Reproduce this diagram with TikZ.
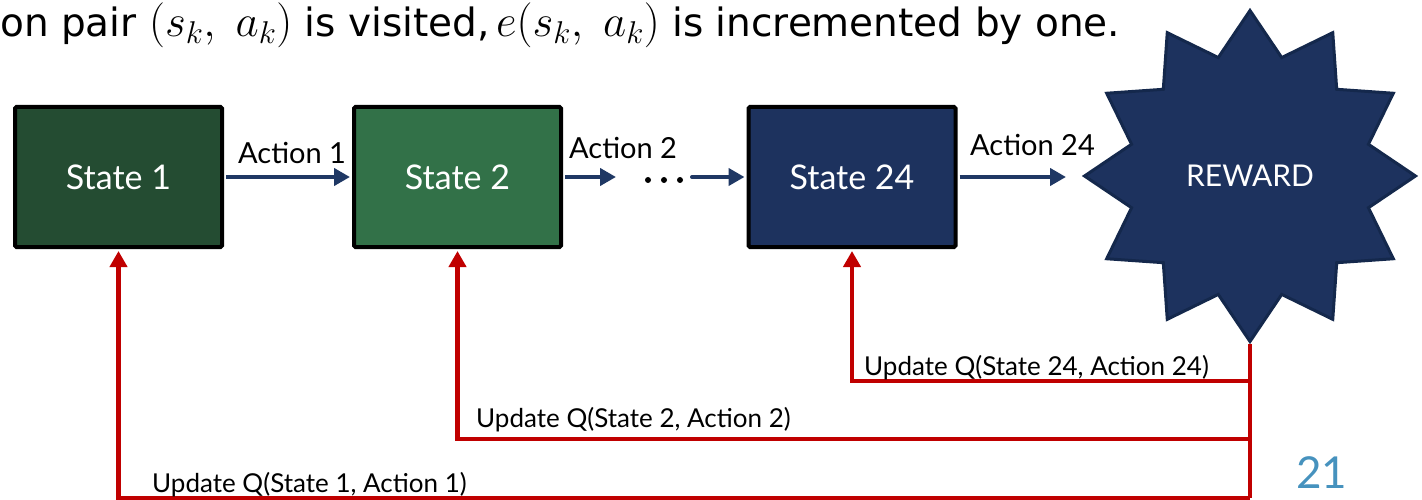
\RequirePackage{fix-cm}
\documentclass[tikz,border=0pt]{standalone}
\usepackage{fontspec}
\setmainfont{Lato}
\newfontfamily\headfont{DejaVu Sans}
\usetikzlibrary{arrows.meta,shapes.geometric}

\definecolor{greenA}{RGB}{36,76,50}
\definecolor{greenB}{RGB}{50,113,72}
\definecolor{navyBox}{RGB}{29,50,94}
\definecolor{navyLine}{RGB}{31,56,100}
\definecolor{navyEdge}{RGB}{20,40,76}
\definecolor{backRed}{RGB}{192,0,0}
\definecolor{pageNum}{RGB}{70,146,190}

% larger math inside the heading line
\newcommand{\hmath}[1]{{\fontsize{45}{50}\selectfont$#1$}}

\tikzset{
  statebox/.style={draw=black, line width=4pt, rounded corners=1.5pt,
    minimum width=207pt, minimum height=140pt, inner sep=0pt,
    text=white, font=\fontsize{34}{40}\selectfont},
  actarrow/.style={draw=navyLine, line width=4pt,
    -{Triangle[width=17pt,length=16pt]}},
  upd/.style={draw=backRed, line width=4.5pt},
  updarrow/.style={upd, -{Triangle[width=17pt,length=16pt]}, shorten >=2pt},
  actlabel/.style={anchor=base west, inner sep=0pt, font=\fontsize{29}{34}\selectfont},
  updlabel/.style={anchor=base west, inner sep=0pt, font=\fontsize{26}{31}\selectfont},
  dotmark/.style={circle, fill=black, minimum size=6pt, inner sep=0pt},
}

\begin{document}
\begin{tikzpicture}[x=1pt,y=-1pt]
  \useasboundingbox (0,0) rectangle (1422,500);
  \fill[white] (0,0) rectangle (1422,500);

  % heading line
  \node[anchor=base west, inner sep=0pt, font=\headfont\fontsize{39}{46}\selectfont] (head) at (0,37)
    {on pair \hmath{(s_k,\;a_k)} is visited,\,\hmath{e(s_k,\;a_k)} is incremented by one.};

  % states
  \node[statebox, fill=greenA] (s1) at (118.5,177) {State 1};
  \node[statebox, fill=greenB] (s2) at (457.5,177) {State 2};
  \node[statebox, fill=navyBox] (s24) at (852,177) {State 24};

  % reward
  \node[star, star points=12, star point ratio=1.35, minimum size=331pt, inner sep=0pt,
        fill=navyBox, draw=navyEdge, line width=3pt, text=white,
        font=\fontsize{30}{36}\selectfont] (rw) at (1250,176) {REWARD};

  % ellipsis between state 2 and state 24
  \node[dotmark] (d1) at (648,180) {};
  \node[dotmark] (d2) at (664,180) {};
  \node[dotmark] (d3) at (680,180) {};

  \coordinate (a2end) at (616,177);
  \coordinate (a23start) at (692,177);
  \coordinate (a24end) at (1066,177);

  % forward actions
  \draw[actarrow, shorten <=2pt, shorten >=2pt] (s1.east) -- (s2.west);
  \draw[actarrow, shorten <=2pt] (s2.east) -- (a2end);
  \draw[actarrow, line cap=round, shorten >=2pt] (a23start) -- (s24.west);
  \draw[actarrow, shorten <=2pt] (s24.east) -- (a24end);

  \node[actlabel] (l1) at (238,164) {Action 1};
  \node[actlabel] (l2) at (569,158) {Action 2};
  \node[actlabel] (l24) at (970,156) {Action 24};

  % backward updates
  \coordinate (r24) at (1250,381);
  \coordinate (r2) at (1250,439);
  \coordinate (r1) at (1250,498);
  \draw[upd] (rw.south) -- (rw.south |- r1);
  \draw[updarrow] (rw.south |- r24) -| (s24.south);
  \draw[updarrow] (rw.south |- r2) -| (s2.south);
  \draw[updarrow] (rw.south |- r1) -| (s1.south);

  \node[updlabel] (u24) at (864,375) {Update Q(State 24, Action 24)};
  \node[updlabel] (u2) at (476,427) {Update Q(State 2, Action 2)};
  \node[updlabel] (u1) at (152,492) {Update Q(State 1, Action 1)};

  % page number
  \node[anchor=base west, inner sep=0pt, text=pageNum, font=\fontsize{44}{50}\selectfont] (pg) at (1296,488) {21};
\end{tikzpicture}
\end{document}
